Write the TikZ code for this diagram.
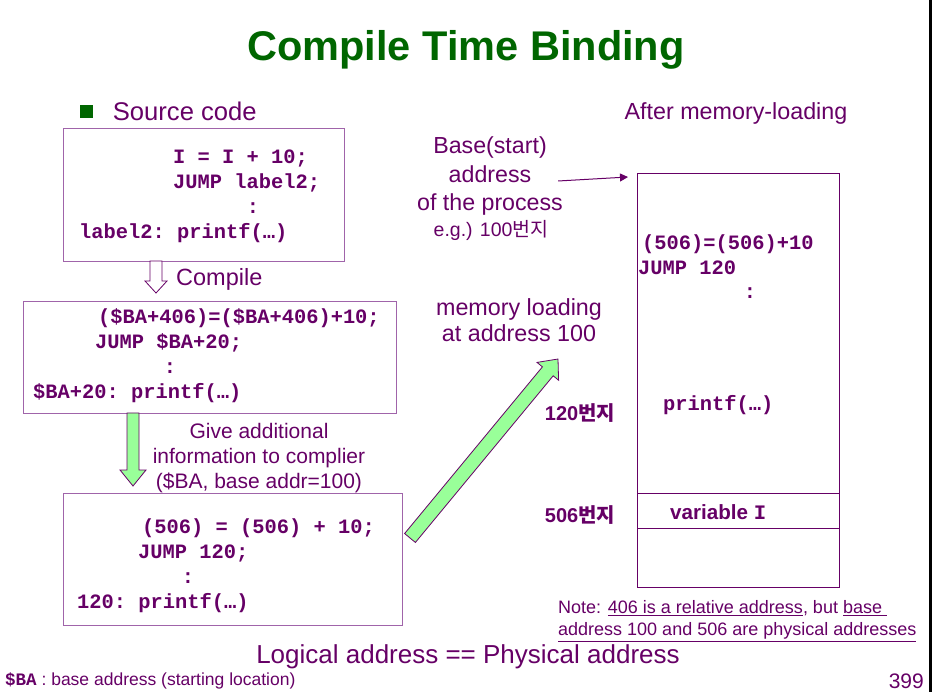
\documentclass[tikz,border=0pt]{standalone}
\usepackage{fontspec}
\setmainfont{Liberation Sans}
\setmonofont{Liberation Mono}
\newfontfamily\kr{Noto Sans CJK KR}
\usetikzlibrary{calc,arrows.meta,positioning}
\definecolor{ink}{RGB}{102,0,102}
\definecolor{frame}{RGB}{160,100,170}
\definecolor{darkgreen}{RGB}{0,102,0}
\definecolor{lightgreen}{RGB}{153,255,153}
\newcommand{\fsz}[2]{\fontsize{#1}{#2}\selectfont}
% style, tail, tip, shaft half width, head half width, head length
\newcommand{\blockarrow}[6]{%
  \coordinate (ba) at ($(#3)!#6!(#2)$);
  \draw[#1] ($(#2)!#4!90:(#3)$) -- ($(ba)!#4!90:(#3)$) -- ($(ba)!#5!90:(#3)$) -- (#3)
    -- ($(ba)!#5!-90:(#3)$) -- ($(ba)!#4!-90:(#3)$) -- ($(#2)!#4!-90:(#3)$) -- cycle;}
\tikzset{
  codebox/.style={draw=frame, line width=1.2pt, anchor=north west, inner sep=0},
  code/.style={anchor=base west, inner sep=0, text=ink, font=\fsz{20.4}{25}\ttfamily\bfseries},
  txt/.style={text=ink, inner sep=0, font=\fsz{23.3}{28}},
  fat/.style={draw=ink, fill=lightgreen, line width=0.8pt},
}
\begin{document}
\begin{tikzpicture}[x=1pt,y=-1pt]
\useasboundingbox (0,0) rectangle (932,692);
\node[font=\fsz{41.5}{50}\bfseries, text=darkgreen, inner sep=0] (title) at (466,50) {Compile Time Binding};

\node[fill=darkgreen, minimum size=13pt, inner sep=0] (bullet) at (86,111.5) {};
\node[txt, font=\fsz{25.6}{30}, anchor=west, right=20pt of bullet] (srclbl) {Source code};

\node[codebox, minimum width=281pt, minimum height=133pt] (src) at (63,128) {};
\node[code] (src1) at (173,164) {I = I + 10;};
\node[code] (src2) at (173,189) {JUMP label2;};
\node[code, anchor=base] (src3) at (253,214) {:};
\node[code] (src4) at (79,239) {label2: printf(…)};

\coordinate (cmpA) at (156,261);
\coordinate (cmpB) at (156,293);
\blockarrow{draw=ink, fill=white, line width=0.8pt}{cmpA}{cmpB}{6pt}{11pt}{12pt}
\node[txt, font=\fsz{23.5}{28}, anchor=west] (cmplbl) at (176,279) {Compile};

\node[codebox, minimum width=373pt, minimum height=112pt] (rel) at (23,301) {};
\node[code] (rel1) at (98,324) {(\$BA+406)=(\$BA+406)+10;};
\node[code] (rel2) at (95,349) {JUMP \$BA+20;};
\node[code, anchor=base] (rel3) at (170,374) {:};
\node[code] (rel4) at (33,399) {\$BA+20: printf(…)};

\coordinate (infoA) at (133,413);
\coordinate (infoB) at (133,486);
\blockarrow{fat}{infoA}{infoB}{6pt}{13pt}{16pt}
\node[txt, font=\fsz{21}{25}, align=center] (info) at (259,458) {Give additional\\information to complier\\(\$BA, base addr=100)};

\node[codebox, minimum width=339pt, minimum height=132pt] (abs) at (63,493) {};
\node[code] (abs1) at (142,533) {(506) = (506) + 10;};
\node[code] (abs2) at (138,558) {JUMP 120;};
\node[code, anchor=base] (abs3) at (188,583) {:};
\node[code] (abs4) at (77,608) {120: printf(…)};

\coordinate (loadA) at (410,538);
\coordinate (loadB) at (558,359);
\blockarrow{fat}{loadA}{loadB}{7pt}{14pt}{16pt}
\node[txt, align=center, font=\fsz{23.3}{26}] (load) at (519,320) {memory loading\\at address 100};

\node[txt, align=center, font=\fsz{23.2}{28.5}] (base) at (490,176.5) {Base(start)\\address\\of the process};
\node[txt, font=\fsz{19.5}{22}] (eg) at (491,230) {e.g.) 100{\kr 번지}};

\node[txt] (memlbl) at (736,113) {After memory-loading};
\node[codebox, draw=ink, line width=1pt, minimum width=202pt, minimum height=414pt] (mem) at (637,173) {};
\draw[ink, line width=1pt] ($(mem.north west)+(0,320)$) -- ($(mem.north east)+(0,320)$);
\draw[ink, line width=1pt] ($(mem.north west)+(0,355)$) -- ($(mem.north east)+(0,355)$);
\draw[ink, line width=1pt, -{Triangle[length=8pt,width=8pt]}] ([shift={(-5,4.5)}]base.east) -- ([shift={(-9,4)}]mem.north west);

\node[code] (mem1) at (642,250) {(506)=(506)+10};
\node[code] (mem2) at (638,275) {JUMP 120};
\node[code, anchor=base] (mem3) at (750,299) {:};
\node[code] (mem4) at (663,411) {printf(…)};
\node[txt, anchor=base west, font=\fsz{20.6}{25}\bfseries] (var) at (670,519) {variable \texttt{I}};

\node[txt, font=\fsz{20}{24}\bfseries] (a120) at (580,413) {120{\kr 번지}};
\node[txt, font=\fsz{20}{24}\bfseries] (a506) at (580,515) {506{\kr 번지}};

\node[txt, anchor=west, align=left, font=\fsz{18}{22}] (note) at (558,621) {Note: \underline{406 is a relative address}, but \underline{base\ }\\\underline{address 100 and 506 are physical addresses}};

\node[txt, font=\fsz{26}{30}] (logic) at (468,657) {Logical address == Physical address};
\node[txt, anchor=west, font=\fsz{17.5}{20}] (foot) at (5,681) {{\ttfamily\bfseries \$BA} : base address (starting location)};
\node[txt, anchor=east, font=\fsz{21}{25}] (page) at (924,681) {399};

\draw[line width=2.5pt] (930.5,0) -- (930.5,692);
\end{tikzpicture}
\end{document}
